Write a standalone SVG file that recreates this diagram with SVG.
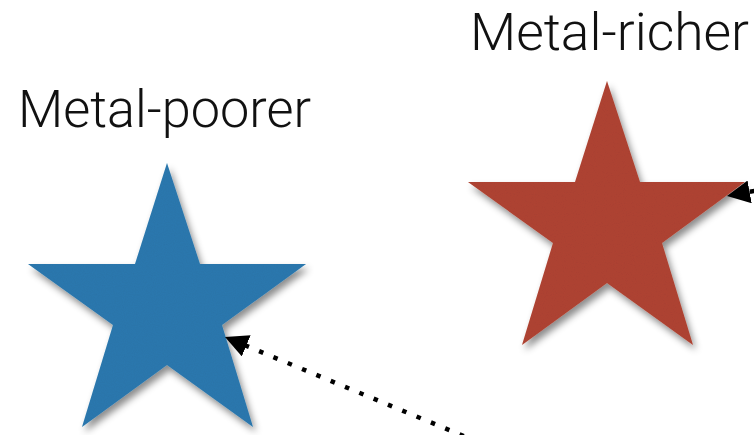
<svg xmlns="http://www.w3.org/2000/svg" width="754" height="435" viewBox="0 0 754 435">
  <style>
    .label { font-family: Roboto, "Liberation Sans", sans-serif; font-weight: 300; font-size: 51px; fill: #111; }
    .conn { stroke: #000; stroke-width: 4.5; stroke-dasharray: 4.5 11; fill: none; }
  </style>
  <defs>
    <filter id="shadow" x="-10%" y="-10%" width="130%" height="130%">
      <feTurbulence type="fractalNoise" baseFrequency="0.9" numOctaves="2" seed="3" result="noise"/>
      <feColorMatrix in="noise" type="matrix" values="0 0 0 0 0  0 0 0 0 0  0 0 0 0 0  0 0 0 0.10 0" result="dark"/>
      <feComposite in="dark" in2="SourceGraphic" operator="in" result="tex"/>
      <feDropShadow in="SourceGraphic" dx="3" dy="5" stdDeviation="3.5" flood-color="#000" flood-opacity="0.45" result="sh"/>
      <feMerge>
        <feMergeNode in="sh"/>
        <feMergeNode in="tex"/>
      </feMerge>
    </filter>
    <marker id="head" viewBox="0 0 10 10" refX="10" refY="5" markerUnits="userSpaceOnUse" markerWidth="23" markerHeight="23" orient="auto">
      <path d="M0,0 L10,5 L0,10 z" fill="#000"/>
    </marker>
  </defs>
  <rect width="754" height="435" fill="#fff"/>

  <g id="metal-poorer">
    <path filter="url(#shadow)" fill="#2e79b0" d="M167,163 L200,264 L306,264 L222,325 L253,427 L167,365 L82,427 L113,325 L28,264 L135,264 Z"/>
    <text class="label" x="18" y="127" textLength="293" lengthAdjust="spacingAndGlyphs">Metal-poorer</text>
  </g>

  <g id="metal-richer">
    <path filter="url(#shadow)" fill="#b14434" d="M607,81 L640,182 L745,182 L662,243 L693,345 L607,283 L522,345 L553,243 L468,182 L575,182 Z"/>
    <text class="label" x="470" y="50" textLength="279" lengthAdjust="spacingAndGlyphs">Metal-richer</text>
  </g>

  <g id="connectors">
    <line class="conn" x1="478" y1="442" x2="225" y2="337" marker-end="url(#head)"/>
    <line class="conn" x1="800" y1="182.5" x2="727" y2="196" marker-end="url(#head)"/>
  </g>
</svg>
